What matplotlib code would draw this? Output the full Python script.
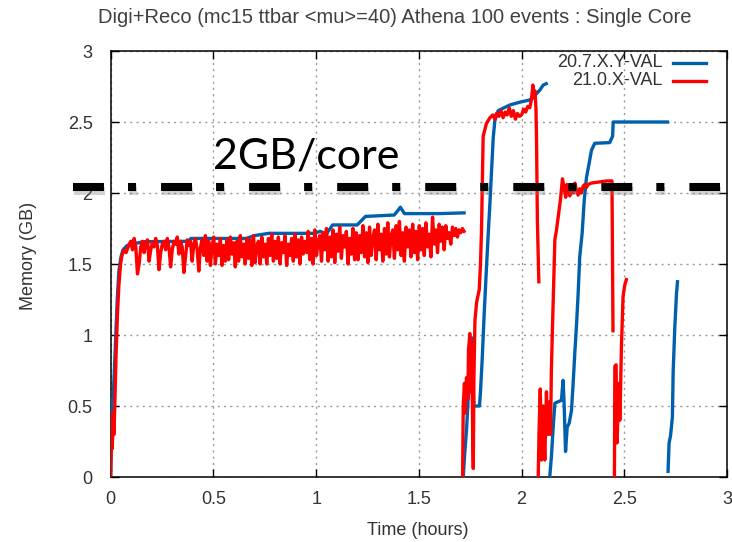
import numpy as np
import matplotlib.pyplot as plt
import matplotlib.ticker as ticker
import matplotlib.patheffects as pe

plt.rcParams['font.family'] = ['Liberation Sans', 'DejaVu Sans']
plt.rcParams['font.size'] = 13
plt.rcParams['lines.scale_dashes'] = False

# --- 20.7.X.Y-VAL (azul): cada job reinicia, entao sao varios trechos ---
azul_t1 = [0.0, 0.002, 0.005, 0.012, 0.018, 0.025, 0.032, 0.04, 0.05, 0.06, 0.08, 0.12, 0.16,
           0.38, 0.39, 0.66, 0.70, 0.77, 0.99, 1.02, 1.05, 1.08, 1.20, 1.24, 1.38, 1.40, 1.41,
           1.43, 1.60, 1.72]
azul_m1 = [0.05, 0.18, 0.52, 0.55, 0.75, 1.0, 1.25, 1.45, 1.55, 1.6, 1.63, 1.645, 1.657,
           1.66, 1.68, 1.68, 1.70, 1.716, 1.716, 1.73, 1.71, 1.775, 1.775, 1.835, 1.845, 1.88, 1.90,
           1.855, 1.855, 1.86]

azul_t2 = [1.716, 1.724, 1.732, 1.74, 1.75, 1.758, 1.762, 1.768, 1.795, 1.80, 1.808, 1.818, 1.83,
           1.838, 1.846, 1.854, 1.862, 1.87, 1.886, 1.943, 1.992, 2.04, 2.06, 2.089, 2.105, 2.12]
azul_m2 = [0.0, 0.18, 0.33, 0.55, 0.8, 0.98, 0.7, 0.5, 0.5, 0.6, 0.82, 1.15, 1.5,
           1.72, 1.93, 2.16, 2.39, 2.51, 2.58, 2.62, 2.64, 2.655, 2.68, 2.725, 2.76, 2.77]

azul_t3 = [2.137, 2.145, 2.153, 2.162, 2.178, 2.194, 2.202, 2.207, 2.214, 2.222, 2.232, 2.243,
           2.251, 2.259, 2.267, 2.275, 2.283, 2.295, 2.305, 2.316, 2.329, 2.34, 2.356, 2.429,
           2.443, 2.446, 2.71]
azul_m3 = [0.0, 0.14, 0.33, 0.52, 0.53, 0.54, 0.68, 0.52, 0.18, 0.35, 0.38, 0.47,
           0.66, 0.87, 1.06, 1.28, 1.55, 1.72, 1.95, 2.11, 2.21, 2.30, 2.35, 2.355,
           2.40, 2.50, 2.50]

azul_t4 = [2.713, 2.718, 2.725, 2.734, 2.738, 2.746, 2.754, 2.759]
azul_m4 = [0.04, 0.24, 0.29, 0.42, 0.75, 1.06, 1.29, 1.375]

# --- 21.0.X-VAL (vermelho) ---
verm_t1a = [0.0, 0.004, 0.008, 0.012, 0.016, 0.02, 0.026, 0.033, 0.04, 0.048, 0.055, 0.065, 0.075]
verm_m1a = [0.0, 0.3, 0.2, 0.45, 0.3, 0.5, 0.85, 1.15, 1.35, 1.5, 1.56, 1.6, 1.58]
# parte ruidosa, amostrada em intervalos regulares de 0.09 h ate 1.72 h
verm_m1b = [1.64, 1.66, 1.60, 1.68, 1.62, 1.43, 1.50, 1.62, 1.66, 1.58, 1.65, 1.67, 1.52, 1.60,
            1.65, 1.62, 1.68, 1.63, 1.46, 1.58, 1.64, 1.66, 1.60, 1.68, 1.62, 1.48, 1.60, 1.66,
            1.64, 1.69, 1.57, 1.66, 1.62, 1.44, 1.55, 1.67, 1.63, 1.66, 1.52, 1.64, 1.68, 1.60,
            1.45, 1.62, 1.67,
            1.56, 1.70, 1.52, 1.66, 1.49, 1.62, 1.69, 1.50, 1.64, 1.56, 1.68, 1.49, 1.63, 1.52,
            1.67, 1.53, 1.69, 1.57, 1.65, 1.48, 1.66, 1.52, 1.70, 1.55, 1.64, 1.50, 1.68, 1.54,
            1.67, 1.49, 1.70, 1.51, 1.63, 1.66, 1.50, 1.69, 1.55, 1.64, 1.50, 1.68, 1.56, 1.71,
            1.52, 1.66, 1.54, 1.69, 1.50, 1.65, 1.58, 1.70, 1.49, 1.64, 1.56, 1.68, 1.52, 1.71,
            1.55, 1.67, 1.50, 1.69, 1.57, 1.66,
            1.58, 1.73, 1.53, 1.68, 1.50, 1.74, 1.56, 1.66, 1.70, 1.52, 1.72, 1.60, 1.75, 1.52,
            1.69, 1.55, 1.74, 1.51, 1.71, 1.59, 1.76, 1.54, 1.70, 1.62, 1.73, 1.50, 1.68, 1.57,
            1.75, 1.53, 1.72,
            1.53, 1.70, 1.58, 1.77, 1.55, 1.72, 1.51, 1.76, 1.56, 1.68, 1.74, 1.53, 1.78, 1.60,
            1.71, 1.52, 1.75, 1.57, 1.79, 1.55, 1.70, 1.74, 1.54, 1.77, 1.60, 1.80, 1.56, 1.72,
            1.52, 1.76, 1.62, 1.74, 1.55, 1.78, 1.58, 1.73, 1.53, 1.77, 1.60, 1.75, 1.56, 1.79,
            1.62, 1.71, 1.55, 1.83, 1.64, 1.74, 1.58, 1.78, 1.66, 1.76, 1.60, 1.77, 1.68, 1.72,
            1.64, 1.76, 1.70, 1.75, 1.69, 1.74, 1.72, 1.75, 1.73]
verm_t1b = np.linspace(0.09, 1.72, len(verm_m1b))

verm_t2 = [1.713, 1.716, 1.722, 1.726, 1.732, 1.738, 1.742, 1.748, 1.752, 1.757, 1.762, 1.765,
           1.768, 1.773, 1.781, 1.794, 1.80, 1.805, 1.81, 1.813, 1.829, 1.846, 1.86, 1.87, 1.878,
           1.89, 1.90, 1.91, 1.92, 1.93, 1.94, 1.95, 1.96, 1.97, 1.98, 1.99, 2.0, 2.01, 2.02,
           2.03, 2.04, 2.048, 2.055, 2.06, 2.065, 2.07, 2.073, 2.077, 2.084]
verm_m2 = [0.0, 0.5, 0.66, 0.45, 0.7, 0.55, 0.9, 1.01, 0.6, 0.95, 0.3, 0.06,
           0.7, 1.1, 1.23, 1.32, 1.5, 1.74, 2.16, 2.40, 2.49, 2.53, 2.55, 2.52, 2.56,
           2.54, 2.58, 2.53, 2.57, 2.55, 2.6, 2.54, 2.58, 2.52, 2.56, 2.54, 2.55, 2.59, 2.57,
           2.61, 2.6, 2.66, 2.76, 2.67, 2.72, 2.6, 2.35, 1.8, 1.375]

verm_t3 = [2.081, 2.085, 2.091, 2.097, 2.105, 2.113, 2.121, 2.129, 2.137, 2.141, 2.145, 2.15,
           2.157, 2.162, 2.17, 2.178, 2.189, 2.199, 2.206, 2.215, 2.22, 2.227, 2.235, 2.243,
           2.25, 2.259, 2.267, 2.275, 2.283, 2.291, 2.30, 2.308, 2.316, 2.324, 2.34, 2.365,
           2.389, 2.414, 2.44, 2.443, 2.445]
verm_m3 = [0.0, 0.32, 0.62, 0.12, 0.5, 0.12, 0.6, 0.3, 0.53, 0.3, 0.75, 1.03,
           1.39, 1.67, 1.74, 1.83, 1.95, 2.10, 2.04, 1.97, 2.06, 2.02, 1.98, 2.03,
           2.0, 2.07, 2.02, 1.985, 2.03, 2.0, 2.05, 2.06, 2.04, 2.06, 2.07, 2.075,
           2.08, 2.085, 2.085, 1.5, 1.03]

verm_t4 = [2.452, 2.454, 2.46, 2.465, 2.47, 2.475, 2.478, 2.481, 2.486, 2.494, 2.502, 2.51]
verm_m4 = [0.01, 0.78, 0.79, 0.24, 0.5, 0.66, 0.4, 0.56, 0.92, 1.27, 1.35, 1.39]

limite_gb = 2.04  # linha "2GB/core"


def junta(*trechos):
    # junta os trechos com NaN no meio para quebrar a linha
    xs, ys = [], []
    for t, m in trechos:
        xs += list(t) + [np.nan]
        ys += list(m) + [np.nan]
    return xs, ys


fig = plt.figure(figsize=(7.32, 5.42), dpi=100)
ax = fig.add_axes([0.1512, 0.1199, 0.842, 0.786])

azul_x, azul_y = junta((azul_t1, azul_m1), (azul_t2, azul_m2), (azul_t3, azul_m3), (azul_t4, azul_m4))
verm_x, verm_y = junta((list(verm_t1a) + list(verm_t1b), verm_m1a + verm_m1b),
                       (verm_t2, verm_m2), (verm_t3, verm_m3), (verm_t4, verm_m4))

ax.plot(azul_x, azul_y, color='#0060ad', linewidth=2.4, zorder=3)
ax.plot(verm_x, verm_y, color='#ff0000', linewidth=2.4, zorder=3.5)

# linha tracejada do limite de memoria (passa por fora do eixo a esquerda)
ax.plot([-0.183, 2.965], [limite_gb, limite_gb], color='black', linewidth=5.8,
        linestyle=(0, (22.3, 17.3, 5.8, 18.0)), clip_on=False, zorder=6,
        path_effects=[pe.SimpleLineShadow(offset=(0.5, -2.5), shadow_color='gray', alpha=0.35),
                      pe.Normal()])
ax.text(0.5, 2.175, '2GB/core', fontsize=31, family=['Lato', 'DejaVu Sans'],
        color='black', ha='left', va='baseline', zorder=6)

ax.set_xlim(0, 3)
ax.set_ylim(0, 3)
ax.xaxis.set_major_locator(ticker.MultipleLocator(0.5))
ax.yaxis.set_major_locator(ticker.MultipleLocator(0.5))
ax.xaxis.set_major_formatter(ticker.StrMethodFormatter('{x:g}'))
ax.yaxis.set_major_formatter(ticker.StrMethodFormatter('{x:g}'))
ax.tick_params(direction='in', length=6, width=1, top=True, right=True,
               labelcolor='#333333', labelsize=13)
ax.tick_params(axis='y', pad=13)
ax.tick_params(axis='x', pad=10)
ax.grid(True, color='#999999', linewidth=1, linestyle=(0, (1.5, 3)))
ax.set_axisbelow(True)
for s in ax.spines.values():
    s.set_linewidth(1.1)

ax.set_xlabel('Time (hours)', color='#333333', fontsize=13)
ax.set_ylabel('Memory (GB)', color='#333333', fontsize=13)
ax.xaxis.set_label_coords(0.4986, -0.105)
ax.yaxis.set_label_coords(-0.12, 0.519)

fig.text(0.5396, 0.967, 'Digi+Reco (mc15 ttbar <mu>=40) Athena 100 events : Single Core',
         ha='center', va='center', color='#404040', fontsize=14.5)

# legenda desenhada a mao: texto alinhado a direita e amostra da linha depois
for nome, cor, y in [('20.7.X.Y-VAL', '#0060ad', 0.972), ('21.0.X-VAL', '#ff0000', 0.9296)]:
    ax.text(0.896, y, nome, transform=ax.transAxes, ha='right', va='center',
            color='#333333', fontsize=13)
    ax.plot([0.9124, 0.9659], [y, y], transform=ax.transAxes, color=cor, linewidth=2.4)

fig.savefig('out.png', dpi=100)
